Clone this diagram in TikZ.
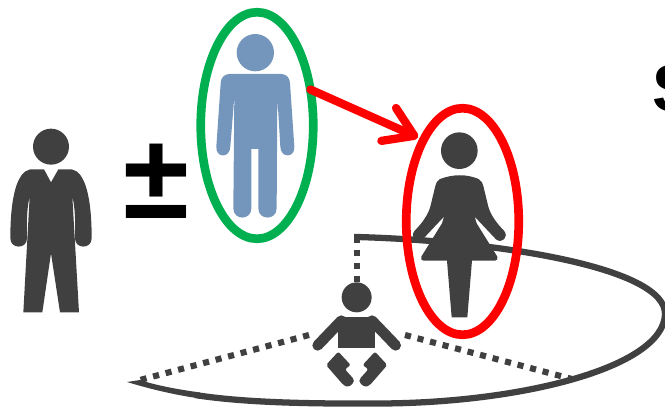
\documentclass[tikz,border=0pt]{standalone}
\usepackage{fontspec}
\setmainfont{Liberation Sans}
\usetikzlibrary{shapes.geometric,arrows.meta}
\definecolor{darkfig}{HTML}{404040}
\definecolor{bluefig}{HTML}{7596BC}
\definecolor{ringgreen}{HTML}{00B050}
\definecolor{ringred}{HTML}{FF0000}
\tikzset{
  ring/.style={ellipse,draw=#1,line width=6.5pt,inner sep=0pt,outer sep=0pt,minimum width=84.4pt,minimum height=169.9pt},
  darkshape/.style={fill=darkfig,draw=none},
  blueshape/.style={fill=bluefig,draw=none},
  family/.style={draw=darkfig,line width=4.7pt},
  dots/.style={draw=darkfig,line width=4.6pt,dash pattern=on 4.6pt off 5.1pt},
  limb/.style={draw=darkfig,line width=8pt,line cap=round},
  link/.style={draw=ringred,line width=6.2pt,line cap=round,-{Straight Barb[length=21pt,width=27pt,round]}}
}
\begin{document}
\begin{tikzpicture}[x=0.75pt,y=-0.75pt]
\useasboundingbox (0,0) rectangle (665,407);
\clip (0,0) rectangle (665,407);
% family curve and dotted links
\coordinate (corner) at (357,237);
\coordinate (babytop) at (357,286);
\coordinate (tipL) at (140,380);
\coordinate (babyL) at (309,335);
\coordinate (babyR) at (405,335);
\coordinate (tipR) at (572,379);
\draw[dots] (corner) -- (babytop);
\draw[dots] (babyL) -- (tipL);
\draw[dots] (babyR) -- (tipR);
\draw[family] (354,237) -- (corner) .. controls (500,241) and (668,268) .. (665,315) .. controls (662,368) and (520,403) .. (380,403.5) .. controls (300,404) and (240,402) .. (195,395);
\fill[darkfig] (127,382) .. controls (150,389) and (175,395) .. (200,398.5) -- (200,392.5) .. controls (175,389) and (155,385) .. (140,380) -- cycle;
% plus-minus
\node[inner sep=0pt,font=\bfseries\fontsize{90pt}{90pt}\selectfont] (pm) at (156.5,181.5) {±};
% man
\begin{scope}[shift={(0,110)},scale=1/3]
\fill[darkfig] (153,110) circle (54);
\path[darkshape] (132,178) -- (153,217) -- (175,178) -- (215,178) .. controls (255,185) and (275,260) .. (275,385) .. controls (275,418) and (225,418) .. (225,385) .. controls (227,340) and (225,290) .. (217,260) -- (237,607) -- (180,607) -- (153,430) -- (127,607) -- (70,607) -- (89,260) .. controls (81,290) and (79,340) .. (81,385) .. controls (81,418) and (31,418) .. (31,385) .. controls (31,260) and (51,185) .. (91,178) -- cycle;
\end{scope}
% blue person
\begin{scope}[shift={(190,0)},scale=1/3]
\fill[bluefig] (196,158) circle (56);
\path[blueshape] (118,222) -- (274,222) .. controls (290,222) and (300,235) .. (300,250) -- (313,440) .. controls (315,475) and (272,475) .. (271,440) -- (262,290) -- (260,625) .. controls (260,662) and (205,662) .. (205,625) -- (205,447) -- (184,447) -- (184,625) .. controls (184,662) and (130,662) .. (130,625) -- (133,290) -- (121,440) .. controls (120,475) and (77,475) .. (79,440) -- (92,250) .. controls (92,235) and (102,222) .. (118,222) -- cycle;
\end{scope}
% woman
\begin{scope}[shift={(300,60)},scale=1/3]
\fill[darkfig] (478,272) circle (55);
\path[darkshape] (420,357) .. controls (460,342) and (500,342) .. (536,357) .. controls (545,362) and (548,370) .. (550,378) -- (565,440) .. controls (572,465) and (590,490) .. (612,512) .. controls (628,532) and (605,552) .. (588,538) -- (524,470) -- (530,490) -- (592,590) .. controls (595,598) and (590,602) .. (585,602) -- (516,602) -- (502,772) -- (455,772) -- (441,602) -- (371,602) .. controls (366,602) and (361,598) .. (364,590) -- (426,490) -- (432,470) -- (368,538) .. controls (351,552) and (328,532) .. (344,512) .. controls (366,490) and (384,465) .. (391,440) -- (406,378) .. controls (408,370) and (411,362) .. (420,357) -- cycle;
\end{scope}
% baby
\begin{scope}[shift={(120,270)},scale=1/3]
\fill[darkfig] (710,82) circle (45);
\fill[darkfig] (655,140) rectangle (765,235);
\draw[limb] (664,152) -- (593,226);
\draw[limb] (756,152) -- (827,226);
\path[darkshape,rounded corners=1.5pt] (655,245) -- (692,285) -- (675,298) -- (702,328) -- (702,338) -- (684,352) -- (670,345) -- (618,285) -- cycle;
\path[darkshape,rounded corners=1.5pt] (765,245) -- (728,285) -- (745,298) -- (718,328) -- (718,338) -- (736,352) -- (750,345) -- (802,285) -- cycle;
\end{scope}
% rings
\node[ring=ringgreen] (green) at (257,125.5) {};
\node[ring=ringred] (red) at (462.5,221.5) {};
\draw[link] (green.34) -- ([xshift=-2.5pt,yshift=5pt]red.118);
% cut-off letter
\node[anchor=base west,inner sep=0pt,font=\bfseries\fontsize{50pt}{50pt}\selectfont] (s) at (652,111) {S};
\end{tikzpicture}
\end{document}
